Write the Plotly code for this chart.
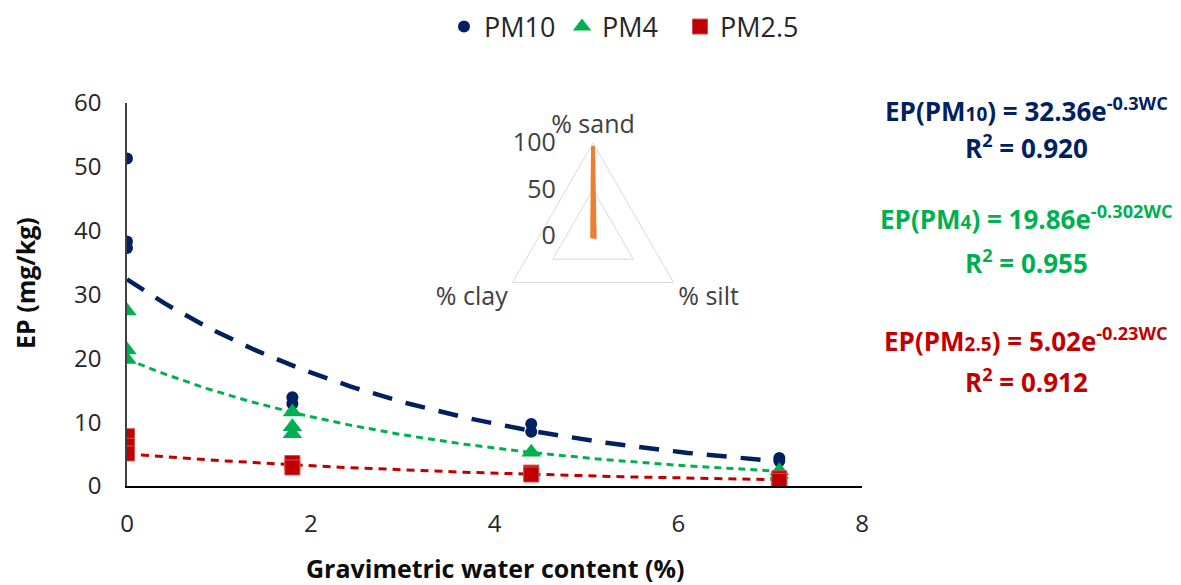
import numpy as np
import plotly.graph_objects as go

# ---- data ----
wc_pm10 = [0, 0, 0, 1.8, 1.8, 4.4, 4.4, 7.1, 7.1]
ep_pm10 = [51.3, 38.3, 37.3, 13.9, 12.9, 9.7, 8.5, 4.4, 3.9]
wc_pm4 = [0, 0, 0, 1.8, 1.8, 1.8, 4.4, 7.1, 7.1]
ep_pm4 = [27.4, 21.3, 19.8, 11.6, 9.3, 8.2, 5.3, 2.4, 1.8]
wc_pm25 = [0, 0, 0, 1.8, 1.8, 4.4, 4.4, 7.1, 7.1]
ep_pm25 = [7.8, 6.3, 5.1, 3.6, 2.9, 2.1, 1.8, 1.2, 0.8]

fit_a = {"PM10": 32.36, "PM4": 19.86, "PM2.5": 5.02}
fit_b = {"PM10": -0.3, "PM4": -0.302, "PM2.5": -0.23}
fit_r2 = {"PM10": 0.920, "PM4": 0.955, "PM2.5": 0.912}

texture_labels = ["% sand", "% silt", "% clay"]
texture_values = [97, 2, 1]

x_ticks = [0, 2, 4, 6, 8]
y_ticks = [0, 10, 20, 30, 40, 50, 60]

C10 = "#002060"
C4 = "#00B050"
C25 = "#C00000"
FONT = "Open Sans"

# the page body has an 8px margin: figure is drawn 8px right/down
OFF = 8
FW, FH = 1181 - OFF, 585 - OFF
# plot area in reference pixels
L, R, T, B = 127, 862, 103, 486
W, H = R - L, B - T


def px(x):
    return (x - L) / W


def py(y):
    return (B - y) / H


fig = go.Figure()

# trendlines
xt = np.linspace(0, 7.05, 120)
fig.add_trace(go.Scatter(x=xt, y=fit_a["PM10"] * np.exp(fit_b["PM10"] * xt), mode="lines",
                         line=dict(color=C10, width=4.5, dash="20px,14px"), showlegend=False, hoverinfo="skip"))
fig.add_trace(go.Scatter(x=xt, y=fit_a["PM4"] * np.exp(fit_b["PM4"] * xt), mode="lines",
                         line=dict(color=C4, width=3, dash="7px,5px"), showlegend=False, hoverinfo="skip"))
fig.add_trace(go.Scatter(x=xt, y=fit_a["PM2.5"] * np.exp(fit_b["PM2.5"] * xt), mode="lines",
                         line=dict(color=C25, width=3, dash="8px,6px"), showlegend=False, hoverinfo="skip"))

# markers
fig.add_trace(go.Scatter(x=wc_pm10, y=ep_pm10, mode="markers", name="PM10",
                         marker=dict(symbol="circle", size=12, color=C10)))
fig.add_trace(go.Scatter(x=wc_pm4, y=ep_pm4, mode="markers", name="PM4",
                         marker=dict(symbol="triangle-up", size=17, color=C4)))
fig.add_trace(go.Scatter(x=wc_pm25, y=ep_pm25, mode="markers", name="PM2.5",
                         marker=dict(symbol="square", size=15, color=C25,
                                     line=dict(color="#D05050", width=1))))

# inset radar
fig.add_trace(go.Scatterpolar(r=texture_values + texture_values[:1],
                              theta=texture_labels + texture_labels[:1],
                              mode="lines", fill="toself", fillcolor="#ED7D31",
                              line=dict(color="#ED7D31", width=4), showlegend=False,
                              subplot="polar"))

fig.update_layout(
    width=FW, height=FH,
    margin=dict(l=L - OFF, r=1181 - R, t=T - OFF, b=585 - B, autoexpand=False),
    paper_bgcolor="white", plot_bgcolor="white",
    font=dict(family=FONT, color="#404040"),
    xaxis=dict(range=[0, 8], tickvals=x_ticks, showgrid=False, zeroline=False,
               showline=True, linecolor="#000000", linewidth=1.5,
               ticks="outside", ticklen=15, tickcolor="rgba(0,0,0,0)",
               tickfont=dict(size=24, color="#262626"), automargin=False),
    yaxis=dict(range=[0, 60], tickvals=y_ticks, showgrid=False, zeroline=False,
               showline=True, linecolor="#404040", linewidth=1.5,
               ticks="outside", ticklen=19, tickcolor="rgba(0,0,0,0)",
               tickfont=dict(size=24, color="#262626"), automargin=False),
    legend=dict(orientation="h", x=px(444), xanchor="left", y=py(27), yanchor="middle",
                font=dict(size=27, color="#262626"), itemwidth=30, tracegroupgap=0,
                entrywidth=73, entrywidthmode="pixels"),
    polar=dict(
        domain=dict(x=[px(500), px(686)], y=[py(329), py(143)]),
        bgcolor="rgba(0,0,0,0)",
        gridshape="linear",
        radialaxis=dict(range=[0, 100], tickvals=[0, 50, 100], showline=False,
                        ticks="outside", ticklen=28, tickcolor="rgba(0,0,0,0)", tickangle=90,
                        gridcolor="#D9D9D9", angle=90, side="counterclockwise",
                        tickfont=dict(size=25, color="#404040")),
        angularaxis=dict(rotation=90, direction="clockwise", showgrid=False, showline=True,
                         linecolor="#D9D9D9", ticks="", tickfont=dict(size=25, color="#404040")),
    ),
)

# axis titles
fig.add_annotation(text="<b>Gravimetric water content (%)</b>", xref="paper", yref="paper",
                   x=px(495), y=py(568), xanchor="center", yanchor="middle", showarrow=False,
                   font=dict(size=25, color="#0D0D0D"))
fig.add_annotation(text="<b>EP (mg/kg)</b>", xref="paper", yref="paper", textangle=-90,
                   x=px(25), y=py(283), xanchor="center", yanchor="middle", showarrow=False,
                   font=dict(size=25, color="#0D0D0D"))


def sub(s):
    return f'<span style="font-size:19px">{s}</span>'


ann = [
    (f"<b>EP(PM{sub('10')}) = {fit_a['PM10']}e<sup>{fit_b['PM10']}WC</sup></b>", 110, C10),
    (f"<b>R<sup>2</sup> = {fit_r2['PM10']:.3f}</b>", 147, C10),
    (f"<b>EP(PM{sub('4')}) = {fit_a['PM4']}e<sup>{fit_b['PM4']}WC</sup></b>", 218, C4),
    (f"<b>R<sup>2</sup> = {fit_r2['PM4']:.3f}</b>", 262, C4),
    (f"<b>EP(PM{sub('2.5')}) = {fit_a['PM2.5']}e<sup>{fit_b['PM2.5']}WC</sup></b>", 340, C25),
    (f"<b>R<sup>2</sup> = {fit_r2['PM2.5']:.3f}</b>", 381, C25),
]
for txt, ypx, col in ann:
    fig.add_annotation(text=txt, xref="paper", yref="paper",
                       x=px(1026), y=py(ypx),
                       xanchor="center", yanchor="middle", showarrow=False,
                       font=dict(size=26, color=col, family=FONT))

fig.write_html("out.html")
